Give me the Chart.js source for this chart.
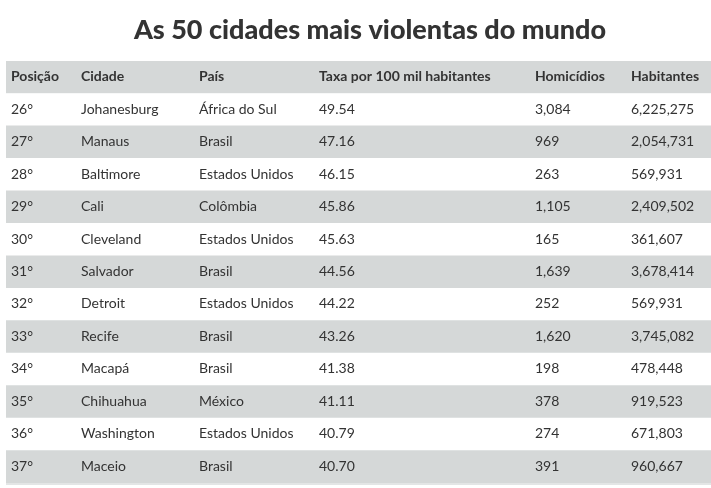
<!DOCTYPE html>
<html>
<head>
<meta charset="utf-8">
<script src="https://cdn.jsdelivr.net/npm/chart.js@4/dist/chart.umd.min.js"></script>
<style>
  html, body { margin: 0; padding: 0; background: #fff; }
  #wrap { width: 711px; height: 488px; }
</style>
</head>
<body>
<div id="wrap"><canvas id="c" width="711" height="488"></canvas></div>
<script>
const titleText = 'As 50 cidades mais violentas do mundo';
const headers = ['Posição', 'Cidade', 'País', 'Taxa por 100 mil habitantes', 'Homicídios', 'Habitantes'];
const positions = ['26°','27°','28°','29°','30°','31°','32°','33°','34°','35°','36°','37°'];
const cities = ['Johanesburg','Manaus','Baltimore','Cali','Cleveland','Salvador','Detroit','Recife','Macapá','Chihuahua','Washington','Maceio'];
const countries = ['África do Sul','Brasil','Estados Unidos','Colômbia','Estados Unidos','Brasil','Estados Unidos','Brasil','Brasil','México','Estados Unidos','Brasil'];
const rates = ['49.54','47.16','46.15','45.86','45.63','44.56','44.22','43.26','41.38','41.11','40.79','40.70'];
const homicides = ['3,084','969','263','1,105','165','1,639','252','1,620','198','378','274','391'];
const populations = ['6,225,275','2,054,731','569,931','2,409,502','361,607','3,678,414','569,931','3,745,082','478,448','919,523','671,803','960,667'];

const rowLabels = ['header'].concat(positions);
const columns = [positions, cities, countries, rates, homicides, populations];
const colStarts = [5, 75, 193, 313, 529, 625];
const FONT = 'Lato, "Source Sans Pro", "Noto Sans", sans-serif';

const tablePlugin = {
  id: 'tableText',
  afterDatasetsDraw(chart) {
    const ctx = chart.ctx;
    const xs = chart.scales.x, ys = chart.scales.y;
    ctx.save();
    // title
    ctx.fillStyle = '#333333';
    ctx.textAlign = 'center';
    ctx.textBaseline = 'middle';
    ctx.font = '900 27px ' + FONT;
    ctx.fillText(titleText, 370, 30);
    // header + body
    ctx.textAlign = 'left';
    ctx.font = 'bold 14px ' + FONT;
    headers.forEach((h, c) => {
      ctx.fillText(h, xs.getPixelForValue(colStarts[c]), ys.getPixelForValue(0) - 0.5);
    });
    ctx.font = '14px ' + FONT;
    columns.forEach((col, c) => {
      col.forEach((v, r) => {
        ctx.fillText(v, xs.getPixelForValue(colStarts[c]), ys.getPixelForValue(r + 1) - 0.5);
      });
    });
    // bottom edge line
    ctx.fillStyle = '#e3e5e5';
    ctx.fillRect(chart.chartArea.left, chart.chartArea.bottom, chart.chartArea.right - chart.chartArea.left, 2);
    ctx.restore();
  }
};

new Chart(document.getElementById('c'), {
  type: 'bar',
  data: {
    labels: rowLabels,
    datasets: [{
      data: rowLabels.map(() => [0, 705]),
      backgroundColor: rowLabels.map((_, i) => i % 2 === 0 ? '#d5d8d8' : '#ffffff'),
      borderWidth: 0,
      barPercentage: 1,
      categoryPercentage: 1
    }]
  },
  options: {
    indexAxis: 'y',
    responsive: false,
    animation: false,
    devicePixelRatio: 1,
    layout: { padding: { left: 6, right: 0, top: 61, bottom: 5 } },
    scales: {
      x: { type: 'linear', min: 0, max: 705, display: false },
      y: { type: 'category', display: false, offset: true }
    },
    plugins: {
      legend: { display: false },
      tooltip: { enabled: false },
      title: { display: false }
    }
  },
  plugins: [tablePlugin]
});
</script>
</body>
</html>
